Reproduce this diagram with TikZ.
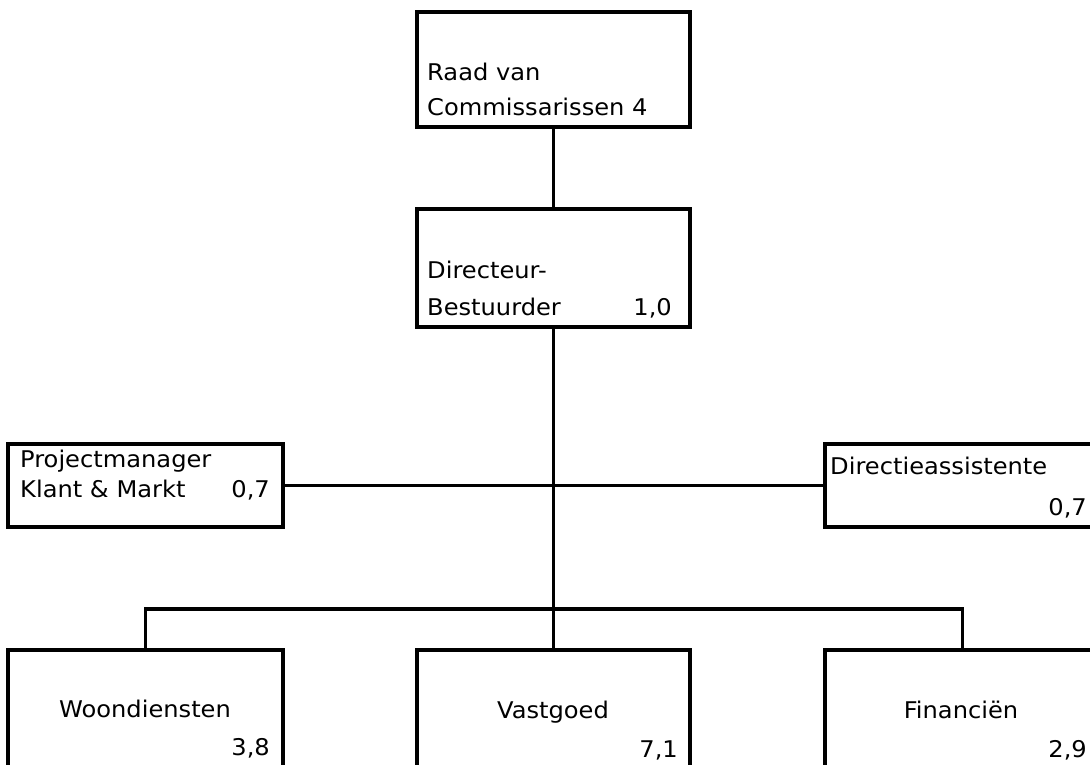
\documentclass[tikz,border=0pt]{standalone}
\usepackage{fontspec}
\setmainfont{DejaVu Sans}[FakeStretch=1.05]
\begin{document}
\begin{tikzpicture}[x=1pt,y=-1pt,
  box/.style={draw=black,line width=3.3pt,rectangle,inner sep=0pt},
  conn/.style={draw=black,line width=3.3pt},
  lbl/.style={inner sep=0pt,font=\fontsize{23}{27}\selectfont}]
\useasboundingbox (0,0) rectangle (1090,764);
\clip (0,0) rectangle (1090,764);
% boxes
\node[box,minimum width=273pt,minimum height=115pt] (rvc) at (553.5,69.5) {};
\node[box,minimum width=273pt,minimum height=118pt] (dir) at (553.5,268) {};
\node[box,minimum width=275pt,minimum height=83pt] (pm) at (145.5,485.5) {};
\node[box,minimum width=275pt,minimum height=83pt] (da) at (962.5,485.5) {};
\node[box,minimum width=275pt,minimum height=150pt] (wd) at (145.5,725) {};
\node[box,minimum width=273pt,minimum height=150pt] (vg) at (553.5,725) {};
\node[box,minimum width=275pt,minimum height=150pt] (fin) at (962.5,725) {};
\coordinate (bus) at (553.5,609);
% connectors
\draw[conn] (rvc.south) -- (dir.north);
\draw[conn] (dir.south) -- (vg.north);
\draw[conn] (pm.east) -- (da.west);
\draw[conn] (wd.north) |- (bus) -| (fin.north);
% texts
\node[lbl,anchor=base west] (t1) at (427,80) {Raad van};
\node[lbl,anchor=base west] (t2) at (427,115) {Commissarissen 4};
\node[lbl,anchor=base west] (t3) at (427,278) {Directeur-};
\node[lbl,anchor=base west] (t4) at (427,315) {Bestuurder};
\node[lbl,anchor=base east] (t5) at (672,315) {1,0};
\node[lbl,anchor=base west] (t6) at (20,467) {Projectmanager};
\node[lbl,anchor=base west] (t7) at (20,497) {Klant \& Markt};
\node[lbl,anchor=base east] (t8) at (270,497) {0,7};
\node[lbl,anchor=base west] (t9) at (830,474) {Directieassistente};
\node[lbl,anchor=base east] (t10) at (1087,515) {0,7};
\node[lbl,anchor=base] (t11) at (145,717) {Woondiensten};
\node[lbl,anchor=base east] (t12) at (270,755) {3,8};
\node[lbl,anchor=base] (t13) at (553,718) {Vastgoed};
\node[lbl,anchor=base east] (t14) at (678,757) {7,1};
\node[lbl,anchor=base] (t15) at (961,718) {Financiën};
\node[lbl,anchor=base east] (t16) at (1087,757) {2,9};
\end{tikzpicture}
\end{document}
